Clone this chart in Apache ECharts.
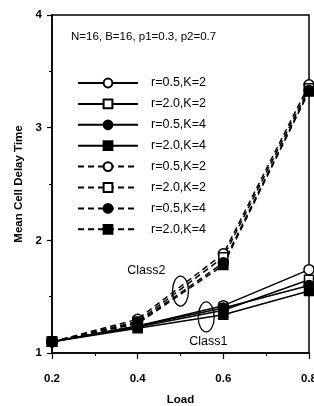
<!DOCTYPE html>
<html>
<head>
<meta charset="utf-8">
<script src="https://cdn.jsdelivr.net/npm/echarts@6/dist/echarts.min.js"></script>
<style>
  html, body { margin: 0; padding: 0; background: #fff; }
  #chart { width: 314px; height: 406px; }
</style>
</head>
<body>
<div id="chart"></div>
<script>
// load values on the x axis
const loads = [0.2, 0.4, 0.6, 0.8]
// legend labels (same four cases for each class)
const caseNames = ['r=0.5,K=2', 'r=2.0,K=2', 'r=0.5,K=4', 'r=2.0,K=4']
// class 1 (solid lines)
const class1Open05K2 = [1.10, 1.24, 1.42, 1.74]
const class1Open20K2 = [1.10, 1.23, 1.38, 1.65]
const class1Fill05K4 = [1.10, 1.24, 1.40, 1.60]
const class1Fill20K4 = [1.10, 1.22, 1.34, 1.55]
// class 2 (dashed lines)
const class2Open05K2 = [1.10, 1.30, 1.88, 3.38]
const class2Open20K2 = [1.10, 1.28, 1.85, 3.35]
const class2Fill05K4 = [1.10, 1.27, 1.80, 3.33]
const class2Fill20K4 = [1.10, 1.26, 1.78, 3.32]

const font = '"Liberation Sans", Arial, sans-serif'
const chart = echarts.init(document.getElementById('chart'))

// marker style per case: open/filled, circle/rect
const markers = [
  { symbol: 'circle', fill: '#fff' },
  { symbol: 'rect', fill: '#fff' },
  { symbol: 'circle', fill: '#000' },
  { symbol: 'rect', fill: '#000' }
]

function makeSeries(name, values, idx, dashed) {
  const m = markers[idx]
  return {
    name: name,
    type: 'line',
    data: loads.map((x, i) => [x, values[i]]),
    symbol: m.symbol,
    symbolSize: m.symbol === 'rect' ? 9 : 10,
    showAllSymbol: true,
    lineStyle: { color: '#000', width: 1.5, type: dashed ? [6, 4] : 'solid' },
    itemStyle: { color: m.fill, borderColor: '#000', borderWidth: 1.5 },
    emphasis: { disabled: true },
    animation: false,
    z: dashed ? 3 : 2
  }
}

const class1 = [class1Open05K2, class1Open20K2, class1Fill05K4, class1Fill20K4]
const class2 = [class2Open05K2, class2Open20K2, class2Fill05K4, class2Fill20K4]
const series = []
class1.forEach((v, i) => series.push(makeSeries(caseNames[i], v, i, false)))
// trailing space keeps the dashed legend entries separate
class2.forEach((v, i) => series.push(makeSeries(caseNames[i] + ' ', v, i, true)))

chart.setOption({
  backgroundColor: '#fff',
  animation: false,
  title: {
    text: 'N=16, B=16, p1=0.3, p2=0.7',
    left: 66,
    top: 26,
    textStyle: { fontFamily: font, fontSize: 11.5, fontWeight: 'normal', color: '#000' }
  },
  legend: {
    orient: 'vertical',
    left: 72,
    top: 71.5,
    itemWidth: 60,
    itemHeight: 11,
    itemGap: 7.9,
    data: series.map(s => s.name),
    formatter: name => name.trim(),
    textStyle: { fontFamily: font, fontSize: 12.5, lineHeight: 11, color: '#000', padding: [0, 0, 0, 8] },
    selectedMode: false
  },
  grid: {
    left: 52, right: 5, top: 15, bottom: 53,
    outerBoundsMode: 'none',
    containLabel: false,
    show: true, borderColor: '#000', borderWidth: 1.5, backgroundColor: '#fff'
  },
  xAxis: {
    type: 'value',
    min: 0.2, max: 0.8, interval: 0.2,
    name: 'Load',
    nameLocation: 'middle',
    nameGap: 41,
    nameTextStyle: { fontFamily: font, fontSize: 11.5, fontWeight: 'bold', color: '#000' },
    axisLine: { lineStyle: { color: '#000', width: 1.5 } },
    axisTick: { length: 6, lineStyle: { color: '#000', width: 1.2 } },
    minorTick: { show: true, splitNumber: 2, length: 3, lineStyle: { color: '#000' } },
    axisLabel: {
      margin: 20,
      fontFamily: font, fontSize: 11.5, fontWeight: 'bold', color: '#000',
      formatter: v => v.toFixed(1)
    },
    splitLine: { show: false }
  },
  yAxis: {
    type: 'value',
    min: 1, max: 4, interval: 1,
    name: 'Mean Cell Delay Time',
    nameLocation: 'middle',
    nameGap: 27,
    nameTextStyle: { fontFamily: font, fontSize: 11.5, fontWeight: 'bold', color: '#000' },
    axisLine: { lineStyle: { color: '#000', width: 1.5 } },
    axisTick: { length: 5, lineStyle: { color: '#000', width: 1.2 } },
    minorTick: { show: true, splitNumber: 2, length: 3, lineStyle: { color: '#000' } },
    axisLabel: { margin: 10, fontFamily: font, fontSize: 11.5, fontWeight: 'bold', color: '#000' },
    splitLine: { show: false }
  },
  series: series
})

// class annotations: ellipse round each bundle plus its label
const notes = [
  { label: 'Class2', at: [0.5, 1.55], text: [0.42, 1.73] },
  { label: 'Class1', at: [0.56, 1.32], text: [0.565, 1.10] }
]
const graphic = []
notes.forEach(n => {
  const c = chart.convertToPixel({ gridIndex: 0 }, n.at)
  const t = chart.convertToPixel({ gridIndex: 0 }, n.text)
  graphic.push({
    type: 'ellipse',
    shape: { cx: c[0], cy: c[1], rx: 8, ry: 15 },
    style: { fill: 'none', stroke: '#000', lineWidth: 1.3 },
    z: 10
  })
  graphic.push({
    type: 'text',
    x: t[0], y: t[1],
    style: {
      text: n.label, fill: '#000', font: '12.5px ' + font,
      textAlign: 'center', textVerticalAlign: 'middle'
    },
    z: 10
  })
})
chart.setOption({ graphic: graphic })
</script>
</body>
</html>
